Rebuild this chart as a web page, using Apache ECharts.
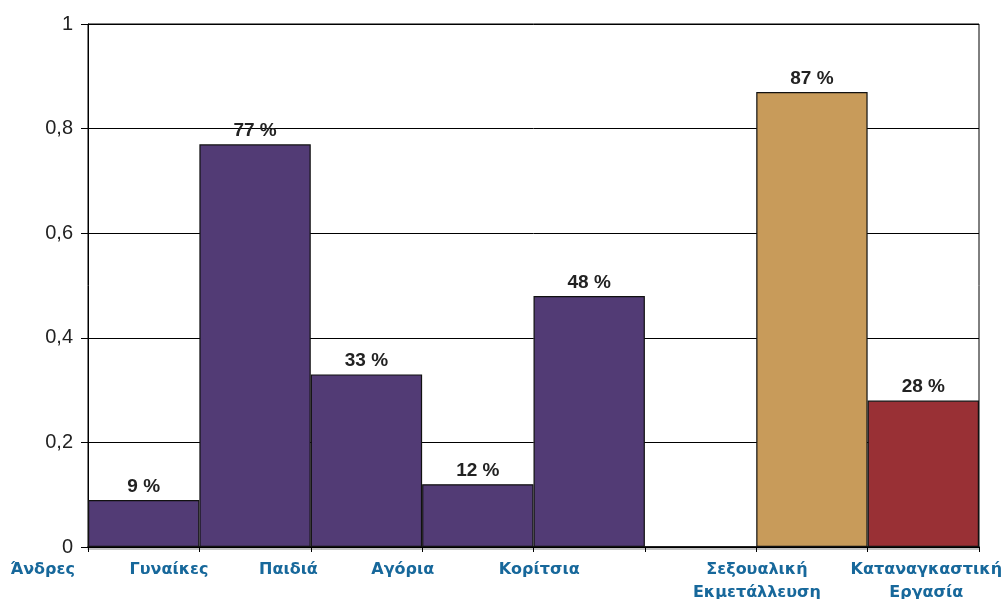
<!DOCTYPE html>
<html>
<head>
<meta charset="utf-8">
<script src="https://cdn.jsdelivr.net/npm/echarts@6/dist/echarts.min.js"></script>
<style>
  html, body { margin: 0; padding: 0; background: #fff; }
  #chart { width: 1004px; height: 599px; }
</style>
</head>
<body>
<div id="chart"></div>
<script>
// categories and values
var categories = ['Άνδρες', 'Γυναίκες', 'Παιδιά', 'Αγόρια', 'Κορίτσια', '', 'Σεξουαλική\nΕκμετάλλευση', 'Καταναγκαστική\nΕργασία'];
var values = [0.09, 0.77, 0.33, 0.12, 0.48, null, 0.87, 0.28];
var yTicks = [0, 0.2, 0.4, 0.6, 0.8, 1];

// styles
var barColors = ['#523B75', '#523B75', '#523B75', '#523B75', '#523B75', '#523B75', '#C89B5A', '#993035'];
var labelShift = [-101, -86, -78, -75, -50, 0, -55, 3]; // label is not centred under its bar in the original
var labelBlue = '#17689B';

var chart = echarts.init(document.getElementById('chart'), null, {renderer: 'canvas'});

var axisData = categories.map(function (name, i) {
  var d = labelShift[i];
  var pad = d < 0 ? [0, -2 * d, 0, 0] : [0, 0, 0, 2 * d];
  return {value: name, textStyle: {padding: pad}};
});

var barData = values.map(function (v, i) {
  return {value: v, itemStyle: {color: barColors[i]}};
});

var option = {
  animation: false,
  grid: {
    left: 88, right: 25, top: 24, bottom: 52,
    outerBoundsMode: 'none',
    containLabel: false,
    show: true, borderColor: '#000', borderWidth: 1, backgroundColor: 'transparent'
  },
  xAxis: {
    type: 'category',
    data: axisData,
    boundaryGap: true,
    axisLine: {lineStyle: {color: '#000', width: 1.5, shadowColor: '#b0b0b0', shadowOffsetY: 2}},
    axisTick: {show: true, length: 5, lineStyle: {color: '#000'}},
    axisLabel: {
      interval: 0,
      margin: 11,
      color: labelBlue,
      fontFamily: 'DejaVu Sans',
      fontWeight: 'bold',
      fontSize: 16,
      lineHeight: 23
    },
    splitLine: {show: false}
  },
  yAxis: {
    type: 'value',
    min: yTicks[0],
    max: yTicks[yTicks.length - 1],
    interval: 0.2,
    axisLine: {show: true, lineStyle: {color: '#000', width: 1}},
    axisTick: {show: true, length: 7, lineStyle: {color: '#000'}},
    axisLabel: {
      margin: 15,
      color: '#222',
      fontFamily: 'Liberation Sans',
      fontSize: 20,
      formatter: function (v) { return String(Math.round(v * 10) / 10).replace('.', ','); }
    },
    splitLine: {lineStyle: {color: '#000', width: 1}}
  },
  series: [
    {
      type: 'bar',
      data: barData,
      barWidth: '100%',
      barCategoryGap: 0,
      itemStyle: {borderColor: '#111', borderWidth: 1.2},
      label: {
        show: true,
        position: 'top',
        distance: 4,
        color: '#222',
        fontFamily: 'Liberation Sans',
        fontWeight: 'bold',
        fontSize: 19,
        formatter: function (p) { return Math.round(p.value * 100) + ' %'; }
      }
    }
  ]
};

chart.setOption(option);
</script>
</body>
</html>
